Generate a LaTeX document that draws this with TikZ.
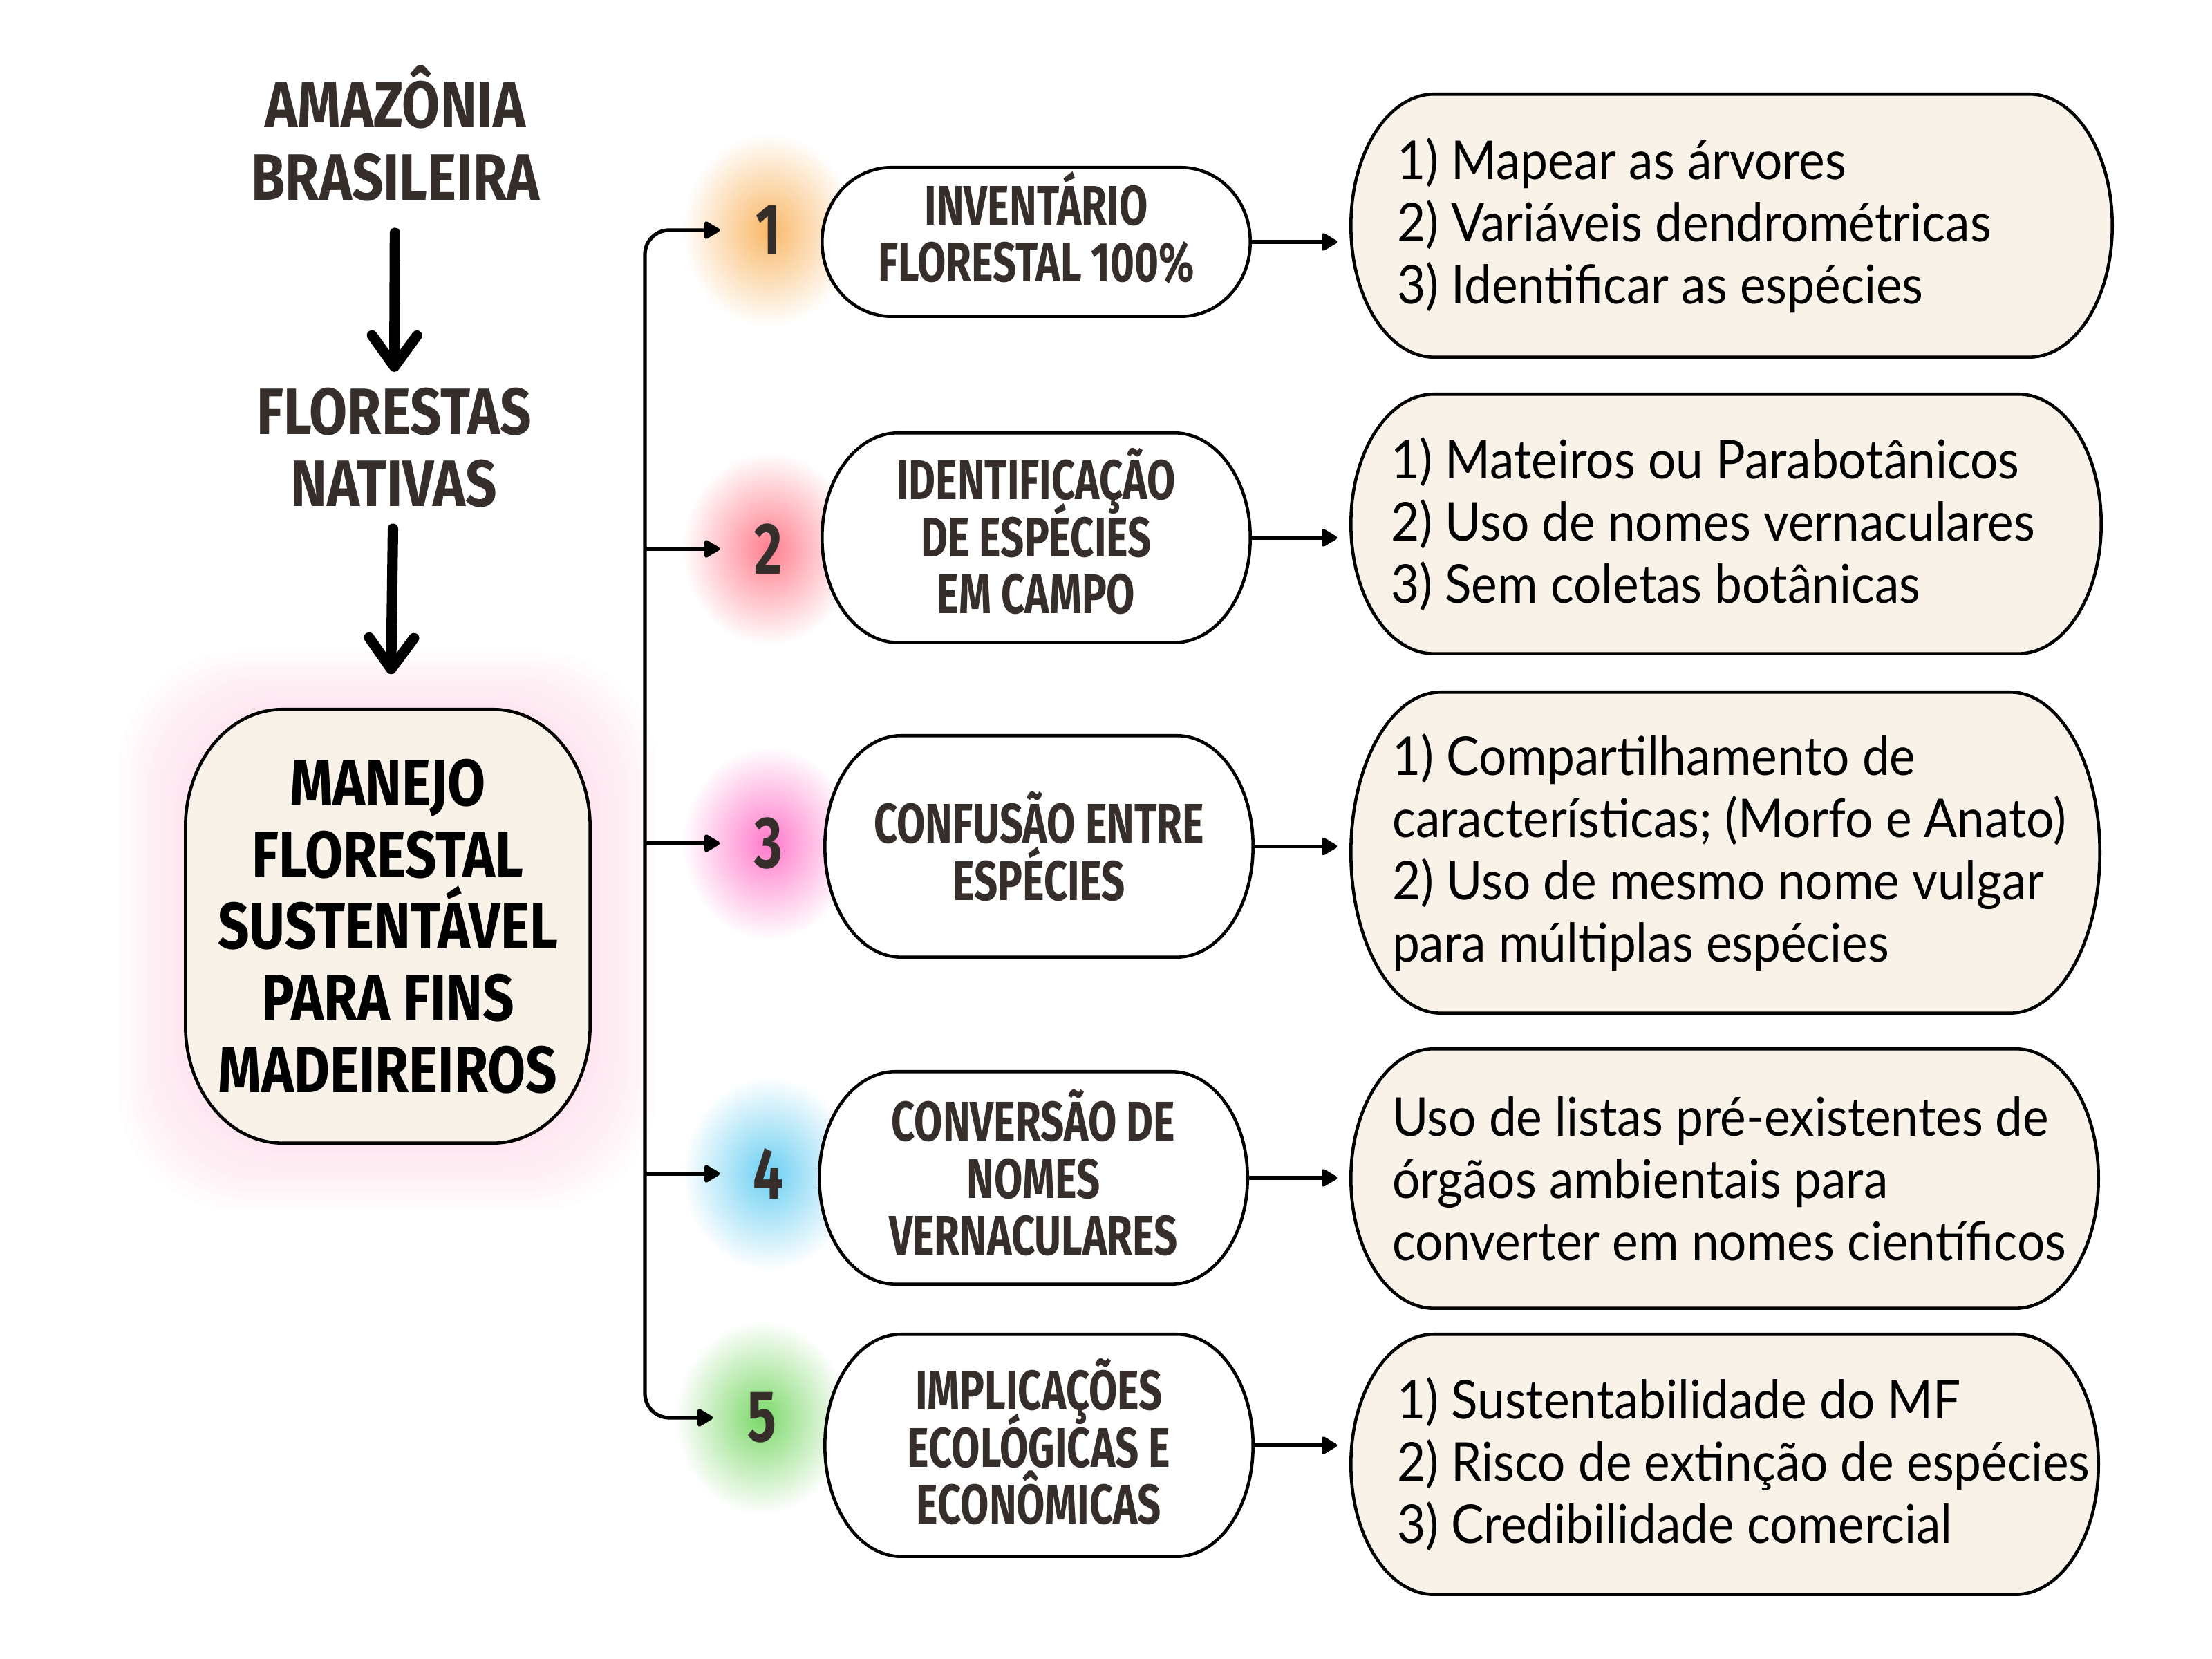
\documentclass[tikz,border=0pt]{standalone}
\usepackage{fontspec}
\setmainfont{Lato}
\newfontfamily\headfont{Fira Sans}[FakeStretch=0.84]
\newfontfamily\condfont{Fira Sans}[FakeStretch=0.74]
\newfontfamily\bodyfont{Lato}[FakeStretch=0.92]
\usepackage{xcolor}
\usetikzlibrary{arrows.meta,backgrounds,positioning}

\definecolor{ink}{HTML}{352E2B}
\definecolor{cream}{HTML}{F8F2E9}
\definecolor{glowA}{HTML}{F9B868}
\definecolor{glowB}{HTML}{FF7F8E}
\definecolor{glowC}{HTML}{FF7ACB}
\definecolor{glowD}{HTML}{6CCFF2}
\definecolor{glowE}{HTML}{7CD86A}
\definecolor{pinkglow}{HTML}{FFC9DF}

% no extra gap between lines with accents
\newcommand{\tight}{\lineskiplimit=-20pt\lineskip=0pt}

% outline with elliptic corners round a named node
\newcommand{\capsule}[4]{%
  \filldraw[boxline, fill=#4]
    ([xshift=#2]#1.north west) -- ([xshift=-#2]#1.north east)
    arc[start angle=90, end angle=0, x radius=#2, y radius=#3]
    -- ([yshift=#3]#1.south east)
    arc[start angle=0, end angle=-90, x radius=#2, y radius=#3]
    -- ([xshift=#2]#1.south west)
    arc[start angle=270, end angle=180, x radius=#2, y radius=#3]
    -- ([yshift=-#3]#1.north west)
    arc[start angle=180, end angle=90, x radius=#2, y radius=#3] -- cycle;}

\tikzset{
  headtext/.style={font=\headfont\bfseries\fontsize{27}{30}\selectfont\tight, text=ink, align=center, inner sep=0pt},
  mainbox/.style={font=\headfont\bfseries\fontsize{27}{29.5}\selectfont\tight, text=black, align=center,
    minimum width=5.84cm, minimum height=6.26cm, inner sep=0pt},
  midbox/.style={font=\condfont\bfseries\fontsize{23}{23.5}\selectfont\tight, text=ink, align=center,
    minimum width=6.18cm, inner sep=0pt},
  numtext/.style={circle, minimum size=1.4cm, inner sep=0pt, font=\condfont\bfseries\fontsize{30}{30}\selectfont, text=ink},
  rbox/.style={minimum width=10.8cm, inner sep=0pt},
  bodytext/.style={font=\bodyfont\fontsize{22}{25.6}\selectfont\tight, align=left, inner sep=0pt, anchor=west},
  boxline/.style={line width=1.3pt, draw=black},
  conn/.style={line width=1.5pt, -{Triangle[length=0.25cm, width=0.28cm, round]}},
  bigarrow/.style={line width=4.3pt, line cap=round, -{Straight Barb[length=0.45cm, width=0.65cm, round]}}
}

\begin{document}
\begin{tikzpicture}
\useasboundingbox (0,0) rectangle (32,24);

% left column
\node[headtext, anchor=south] (amaz) at (5.72,21.08) {AMAZÔNIA\\BRASILEIRA};
\node[headtext, anchor=south, font=\headfont\bfseries\fontsize{27}{29.5}\selectfont] (flor) at (5.70,16.65) {FLORESTAS\\NATIVAS};
\node[mainbox] (mfs) at (5.61,10.60) {MANEJO\\FLORESTAL\\SUSTENTÁVEL\\PARA FINS\\MADEIREIROS};

\draw[bigarrow, shorten <=0.45cm, shorten >=0.23cm] (amaz) -- (flor);
\draw[bigarrow, shorten <=0.3cm, shorten >=0.51cm] (flor) -- (mfs);

% numbers
\node[numtext] (n1) at (11.12,20.67) {1};
\node[numtext] (n2) at (11.12,16.06) {2};
\node[numtext] (n3) at (11.12,11.80) {3};
\node[numtext] (n4) at (11.12,7.02) {4};
\node[numtext] (n5) at (11.02,3.49) {5};

% middle column
\node[midbox, minimum height=2.14cm, text depth=0.44cm] (m1) at (14.99,20.50) {INVENTÁRIO\\FLORESTAL 100\%};
\node[midbox, minimum height=3.02cm, text depth=0.2cm] (m2) at (14.99,16.22) {IDENTIFICAÇÃO\\DE ESPÉCIES\\EM CAMPO};
\node[midbox, minimum height=3.19cm] (m3) at (15.03,11.755) {CONFUSÃO ENTRE\\ESPÉCIES};
\node[midbox, minimum height=3.06cm, text depth=0.16cm] (m4) at (14.95,6.96) {CONVERSÃO DE\\NOMES\\VERNACULARES};
\node[midbox, minimum height=3.20cm, text depth=0.12cm] (m5) at (15.03,3.09) {IMPLICAÇÕES\\ECOLÓGICAS E\\ECONÔMICAS};

% right column
\node[rbox, minimum width=11cm, minimum height=3.79cm] (r1) at (25.05,20.735) {};
\node[rbox, minimum width=10.84cm, minimum height=3.74cm] (r2) at (24.97,16.42) {};
\node[rbox, minimum width=10.82cm, minimum height=4.63cm] (r3) at (24.96,11.665) {};
\node[rbox, minimum height=3.74cm] (r4) at (24.95,6.95) {};
\node[rbox, minimum height=3.75cm] (r5) at (24.95,2.815) {};

\node[bodytext] (t1) at ([xshift=0.66cm]r1.west) {1) Mapear as árvores\\2) Variáveis dendrométricas\\3) Identificar as espécies};
\node[bodytext] (t2) at ([xshift=0.57cm]r2.west) {1) Mateiros ou Parabotânicos\\2) Uso de nomes vernaculares\\3) Sem coletas botânicas};
\node[bodytext] (t3) at ([xshift=0.59cm]r3.west) {1) Compartilhamento de\\características; (Morfo e Anato)\\2) Uso de mesmo nome vulgar\\para múltiplas espécies};
\node[bodytext] (t4) at ([xshift=0.59cm]r4.west) {Uso de listas pré-existentes de\\órgãos ambientais para\\converter em nomes científicos};
\node[bodytext] (t5) at ([xshift=0.66cm]r5.west) {1) Sustentabilidade do MF\\2) Risco de extinção de espécies\\3) Credibilidade comercial};

% bus
\coordinate (b2) at (9.33,16.06);
\coordinate (b3) at (9.33,11.80);
\coordinate (b4) at (9.33,7.02);
\draw[conn, {Triangle[length=0.25cm, width=0.28cm, round]}-{Triangle[length=0.25cm, width=0.28cm, round]}, rounded corners=0.35cm] (n1) -| (b3) |- (n5);
\draw[conn] (b2) -- (n2);
\draw[conn] (b3) -- (n3);
\draw[conn] (b4) -- (n4);

\foreach \i in {1,...,5}
  \draw[conn, shorten >=0.2cm] (m\i.east) -- (m\i.east -| r\i.west);

\begin{scope}[on background layer]
  \foreach \p/\c in {n1/glowA, n2/glowB, n3/glowC, n4/glowD, n5/glowE}
    \shade[inner color=\c, outer color=white] (\p) ellipse (1.25cm and 1.4cm);
  \foreach \d in {1,...,12}
    \fill[pinkglow, opacity=0.05, rounded corners=1.7cm]
      ([shift={(-\d*0.08cm,-\d*0.08cm)}]mfs.south west) rectangle ([shift={(\d*0.08cm,\d*0.07cm)}]mfs.north east);
  \capsule{mfs}{1.4cm}{1.7cm}{cream}
  \capsule{m1}{1cm}{1.07cm}{white}
  \capsule{m2}{1.1cm}{1.51cm}{white}
  \capsule{m3}{1.1cm}{1.595cm}{white}
  \capsule{m4}{1.1cm}{1.53cm}{white}
  \capsule{m5}{1.1cm}{1.6cm}{white}
  \capsule{r1}{1.2cm}{1.895cm}{cream}
  \capsule{r2}{1.2cm}{1.87cm}{cream}
  \capsule{r3}{1.3cm}{2.315cm}{cream}
  \capsule{r4}{1.2cm}{1.87cm}{cream}
  \capsule{r5}{1.2cm}{1.875cm}{cream}
\end{scope}
\end{tikzpicture}
\end{document}
